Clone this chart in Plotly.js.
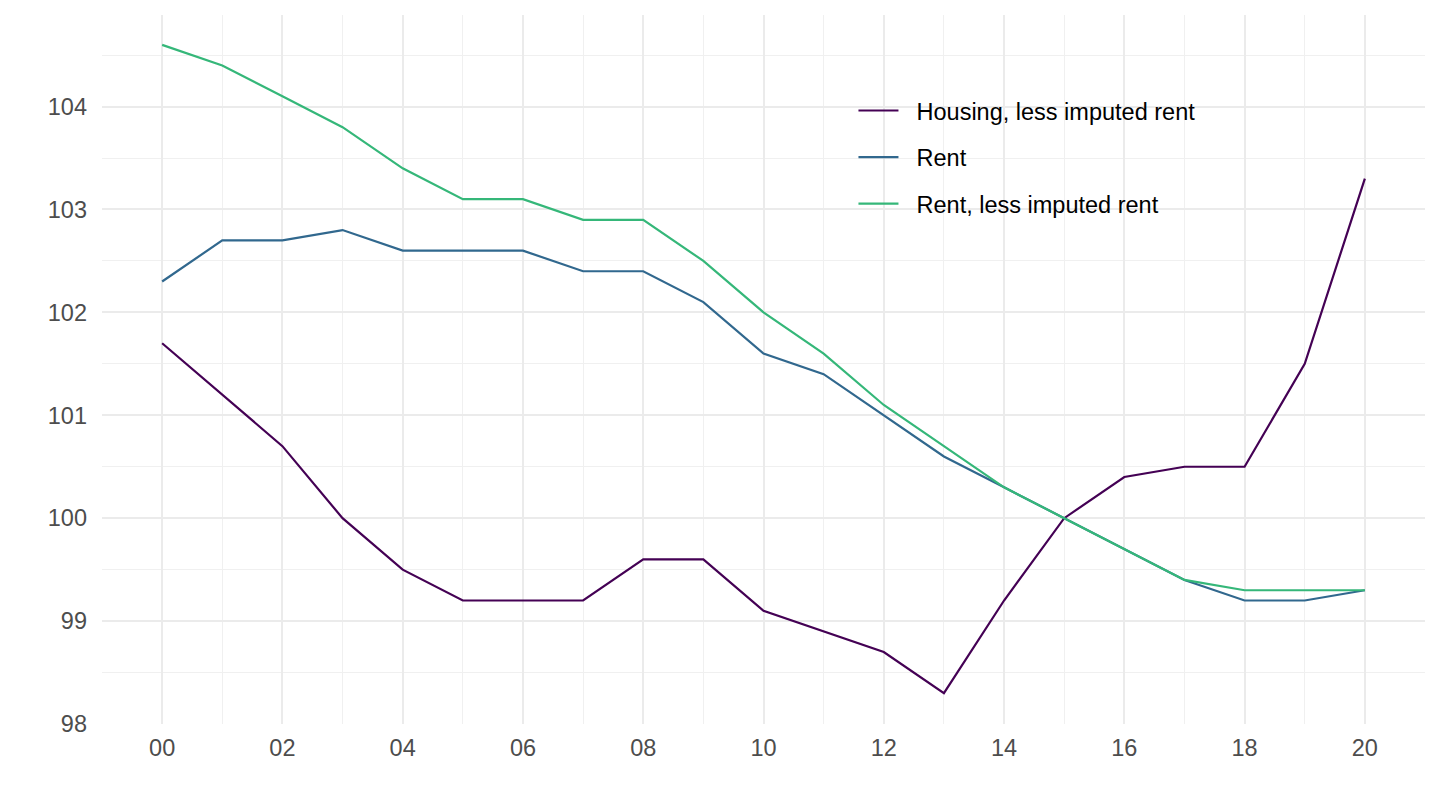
<!DOCTYPE html>
<html>
<head>
<meta charset="utf-8">
<script src="https://cdn.plot.ly/plotly-3.0.1.min.js"></script>
<style>html,body{margin:0;padding:0;background:#fff;}#chart{width:1440px;height:810px;}</style>
</head>
<body>
<div id="chart"></div>
<script>
const years = [2000,2001,2002,2003,2004,2005,2006,2007,2008,2009,2010,2011,2012,2013,2014,2015,2016,2017,2018,2019,2020];
const housingLessImputed = [101.7,101.2,100.7,100.0,99.5,99.2,99.2,99.2,99.6,99.6,99.1,98.9,98.7,98.3,99.2,100.0,100.4,100.5,100.5,101.5,103.3];
const rent = [102.3,102.7,102.7,102.8,102.6,102.6,102.6,102.4,102.4,102.1,101.6,101.4,101.0,100.6,100.3,100.0,99.7,99.4,99.2,99.2,99.3];
const rentLessImputed = [104.6,104.4,104.1,103.8,103.4,103.1,103.1,102.9,102.9,102.5,102.0,101.6,101.1,100.7,100.3,100.0,99.7,99.4,99.3,99.3,99.3];
const seriesNames = ["Housing, less imputed rent","Rent","Rent, less imputed rent"];
const seriesColors = ["#440154","#31688E","#35B779"];
const xTickVals = [2000,2002,2004,2006,2008,2010,2012,2014,2016,2018,2020];
const xTickText = ["00","02","04","06","08","10","12","14","16","18","20"];
const yTickVals = [98,99,100,101,102,103,104];
const yTickText = ["98","99","100","101","102","103","104"];

const allSeries = [housingLessImputed, rent, rentLessImputed];
const traces = allSeries.map((vals, i) => ({
  x: years, y: vals, type: "scatter", mode: "lines",
  name: "\u00A0\u00A0" + seriesNames[i], legendgroup: "g" + i,
  line: {color: seriesColors[i], width: 2.2}
}));

const gridMajor = "#EBEBEB";
const gridMinor = "#F0F0F0";
const layout = {
  width: 1440, height: 810,
  margin: {l: 102, r: 15, t: 15, b: 86},
  paper_bgcolor: "#fff", plot_bgcolor: "#fff",
  font: {family: "Liberation Sans, Arial, sans-serif", size: 23.5, color: "#4D4D4D"},
  showlegend: true,
  legend: {
    x: 0.568, y: 0.896, xanchor: "left", yanchor: "top",
    bgcolor: "rgba(0,0,0,0)", tracegroupgap: 13,
    font: {size: 23.5, color: "#000"}, itemwidth: 40
  },
  xaxis: {
    range: [1999, 2021], tickvals: xTickVals, ticktext: xTickText,
    showgrid: true, gridcolor: gridMajor, gridwidth: 2,
    zeroline: false, showline: false, ticks: "", ticklen: 0,
    ticklabelstandoff: 7,
    tickfont: {size: 23.5, color: "#4D4D4D"},
    minor: {dtick: 1, tick0: 2001, showgrid: true, gridcolor: gridMinor, gridwidth: 1}
  },
  yaxis: {
    range: [98, 104.89], tickvals: yTickVals, ticktext: yTickText,
    showgrid: true, gridcolor: gridMajor, gridwidth: 2,
    zeroline: false, showline: false, ticks: "", ticklen: 0,
    ticklabelstandoff: 14,
    tickfont: {size: 23.5, color: "#4D4D4D"},
    minor: {dtick: 0.5, tick0: 98, showgrid: true, gridcolor: gridMinor, gridwidth: 1}
  }
};
Plotly.newPlot("chart", traces, layout, {displayModeBar: false, staticPlot: true});
</script>
</body>
</html>
